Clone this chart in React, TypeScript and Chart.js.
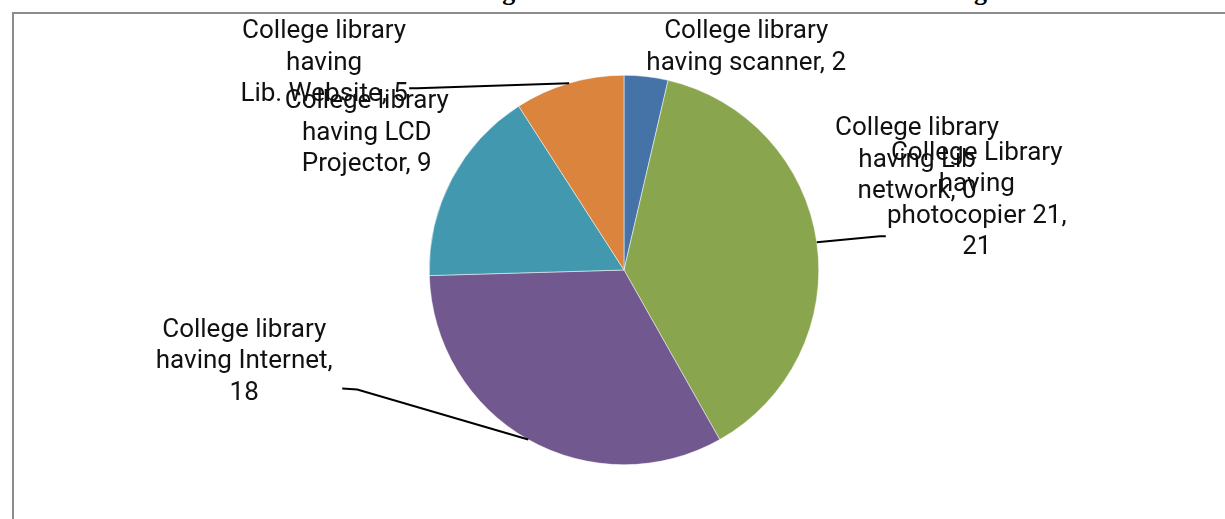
import React, { useEffect, useRef } from "react";
import { Chart, registerables } from "chart.js";

Chart.register(...registerables);

const categories = [
  ["College library", "having scanner, 2"],
  ["College library", "having Lib", "network, 0"],
  ["College Library", "having", "photocopier 21,", "21"],
  ["College library", "having Internet,", "18"],
  ["College library", "having LCD", "Projector, 9"],
  ["College library", "having", "Lib. Website, 5"],
];
const values = [2, 0, 21, 18, 9, 5];
const colors = ["#4572A7", "#4198AF", "#89A54E", "#71588F", "#4198AF", "#DB843D"];

// label layout: offset of label centre from slice-edge midpoint, optional leader points (relative to edge)
const labelLayout = [
  { dx: 100, dy: -29, leader: null },
  { dx: 249, dy: 80, leader: null },
  { dx: 160, dy: -42, leader: [[63, -6], [69, -6]] },
  { dx: -284, dy: -78, leader: [[-171, -50], [-186, -51]] },
  { dx: -85, dy: -46, leader: null },
  { dx: -245, dy: -20, leader: [[-152, 5], [-160, 5]] },
];

const TITLE = "Chart No. 4: ICT Infrastructure in the college libraries in the selected district of the region";

const labelPlugin = {
  id: "pieLabels",
  afterDraw(chart: any) {
    const ctx = chart.ctx;
    const meta = chart.getDatasetMeta(0);
    ctx.save();
    ctx.font = "26px Roboto";
    ctx.fillStyle = "#111";
    ctx.textAlign = "center";
    ctx.textBaseline = "middle";
    const lh = 31.5;
    meta.data.forEach((arc: any, i: number) => {
      const p = arc.getProps(["x", "y", "startAngle", "endAngle", "outerRadius"], true);
      const mid = (p.startAngle + p.endAngle) / 2;
      const ex = p.x + Math.cos(mid) * p.outerRadius;
      const ey = p.y + Math.sin(mid) * p.outerRadius;
      const L = labelLayout[i];
      if (L.leader) {
        ctx.strokeStyle = "#000";
        ctx.lineWidth = 2;
        ctx.beginPath();
        ctx.moveTo(ex, ey);
        L.leader.forEach(([lx, ly]) => ctx.lineTo(ex + lx, ey + ly));
        ctx.stroke();
      }
      const lines = categories[i];
      const cx = ex + L.dx;
      const cy = ey + L.dy;
      const top = cy - ((lines.length - 1) * lh) / 2;
      lines.forEach((t, j) => ctx.fillText(t, cx, top + j * lh));
    });
    ctx.restore();
  },
};

export default function App() {
  const ref = useRef<HTMLCanvasElement | null>(null);
  useEffect(() => {
    if (!ref.current) return;
    const chart = new Chart(ref.current, {
      type: "pie",
      data: {
        labels: categories.map((c) => c.join(" ")),
        datasets: [
          {
            data: values,
            backgroundColor: colors,
            borderColor: "#ffffff",
            borderWidth: 0.5,
          },
        ],
      },
      options: {
        animation: false,
        responsive: false,
        devicePixelRatio: 1,
        layout: { padding: { top: 75, bottom: 54, left: 429, right: 406 } },
        plugins: { legend: { display: false }, tooltip: { enabled: false } },
      },
      plugins: [labelPlugin],
    });
    return () => chart.destroy();
  }, []);
  return (
    <div style={{ position: "fixed", left: 0, top: 0, width: 1225, height: 519, overflow: "hidden", background: "#fff" }}>
      <div
        style={{
          position: "absolute",
          left: 18,
          top: -22,
          whiteSpace: "nowrap",
          font: "bold 26px 'Liberation Serif', serif",
          lineHeight: "28px",
          color: "#000",
        }}
      >
        {TITLE}
      </div>
      <div
        style={{
          position: "absolute",
          left: 12,
          top: 12,
          width: 1400,
          height: 700,
          borderTop: "2px solid #8c8c8c",
          borderLeft: "2px solid #8c8c8c",
          background: "#fff",
        }}
      />
      <canvas ref={ref} width={1225} height={519} style={{ position: "absolute", left: 0, top: 0, width: 1225, height: 519 }} />
    </div>
  );
}
